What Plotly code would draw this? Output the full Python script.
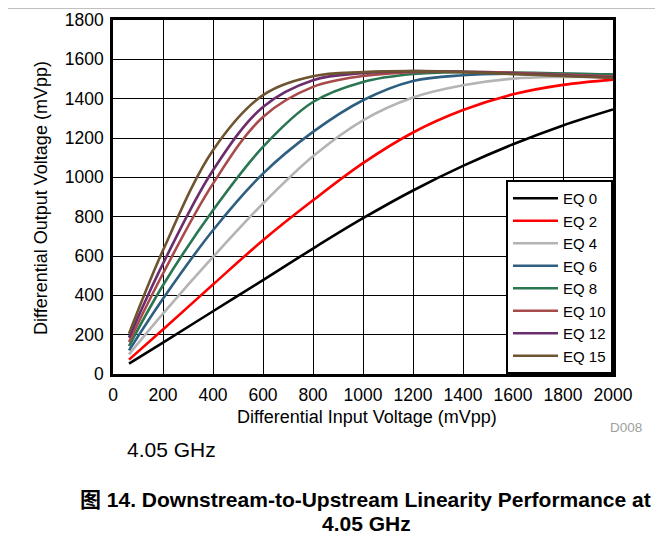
import plotly.graph_objects as go

x_in = [64, 200, 400, 600, 800, 1000, 1200, 1400, 1600, 1800, 2000]
series_names = ["EQ 0", "EQ 2", "EQ 4", "EQ 6", "EQ 8", "EQ 10", "EQ 12", "EQ 15"]
eq0 = [53, 160, 319, 477, 638, 792, 933, 1058, 1168, 1264, 1345]
eq2 = [73, 226, 455, 680, 883, 1072, 1228, 1342, 1422, 1470, 1497]
eq4 = [100, 307, 595, 867, 1107, 1290, 1406, 1468, 1502, 1511, 1512]
eq6 = [120, 383, 731, 1019, 1231, 1392, 1490, 1519, 1527, 1526, 1523]
eq8 = [142, 451, 833, 1155, 1383, 1485, 1525, 1535, 1533, 1528, 1522]
eq10 = [163, 511, 968, 1307, 1460, 1515, 1535, 1537, 1532, 1522, 1512]
eq12 = [185, 561, 1036, 1358, 1494, 1530, 1540, 1537, 1528, 1518, 1508]
eq15 = [205, 629, 1138, 1418, 1514, 1535, 1540, 1535, 1525, 1515, 1505]
series_values = [eq0, eq2, eq4, eq6, eq8, eq10, eq12, eq15]
colors = ["#000000", "#FF0000", "#B4B4B4", "#2E5F80", "#2A7552", "#A84A4A", "#6B2D6E", "#6E5430"]

x_ticks = [0, 200, 400, 600, 800, 1000, 1200, 1400, 1600, 1800, 2000]
y_ticks = [0, 200, 400, 600, 800, 1000, 1200, 1400, 1600, 1800]

FONT = "Liberation Sans, Arial, Noto Sans CJK SC, sans-serif"

fig = go.Figure()
for name, vals, col in zip(series_names, series_values, colors):
    fig.add_trace(go.Scatter(x=x_in, y=vals, name=name, mode="lines",
                             line=dict(color=col, width=2.6, shape="spline", smoothing=1.0)))

fig.update_layout(
    width=663, height=546,
    margin=dict(l=105, r=58, t=12, b=180, autoexpand=False),
    paper_bgcolor="white", plot_bgcolor="white",
    font=dict(family=FONT, size=17.5, color="black"),
    showlegend=True,
    legend=dict(x=1, xanchor="right", y=0, yanchor="bottom",
                bgcolor="white", bordercolor="black", borderwidth=2,
                font=dict(size=15), tracegroupgap=0, itemwidth=45),
)
fig.update_xaxes(range=[0, 2000], tickvals=x_ticks, ticktext=[str(v) for v in x_ticks],
                 showgrid=True, gridcolor="black", gridwidth=1,
                 showline=True, mirror=True, linecolor="black", linewidth=2.5,
                 ticks="outside", ticklen=3, tickcolor="rgba(0,0,0,0)",
                 tickfont=dict(size=17.5), zeroline=False, automargin=False)
fig.update_yaxes(range=[0, 1800], tickvals=y_ticks, ticktext=[str(v) for v in y_ticks],
                 showgrid=True, gridcolor="black", gridwidth=1,
                 showline=True, mirror=True, linecolor="black", linewidth=2.5,
                 ticks="outside", ticklen=3, tickcolor="rgba(0,0,0,0)",
                 tickfont=dict(size=17.5), zeroline=False, automargin=False)

ann = [
    dict(text="Differential Output Voltage (mVpp)", x=-0.1436, y=0.498, textangle=-90,
         font=dict(size=18)),
    dict(text="Differential Input Voltage (mVpp)", x=0.507, y=-0.1224, font=dict(size=18)),
    dict(text="D008", x=1.0254, y=-0.151, font=dict(size=13.5, color="#A0A0A0")),
    dict(text="4.05 GHz", x=0.0234, y=-0.2128, xanchor="left", font=dict(size=21)),
    dict(text="<b>图 14. Downstream-to-Upstream Linearity Performance at</b>", x=0.5054, y=-0.354,
         font=dict(size=21)),
    dict(text="<b>4.05 GHz</b>", x=0.507, y=-0.4219, font=dict(size=21)),
]
for a in ann:
    a.setdefault("xanchor", "center")
    fig.add_annotation(xref="paper", yref="paper", showarrow=False, yanchor="middle", **a)

fig.add_shape(type="line", xref="paper", yref="paper", x0=-0.25, x1=1.12, y0=1.036, y1=1.036,
              line=dict(color="black", width=2))

fig.write_html("out.html")
